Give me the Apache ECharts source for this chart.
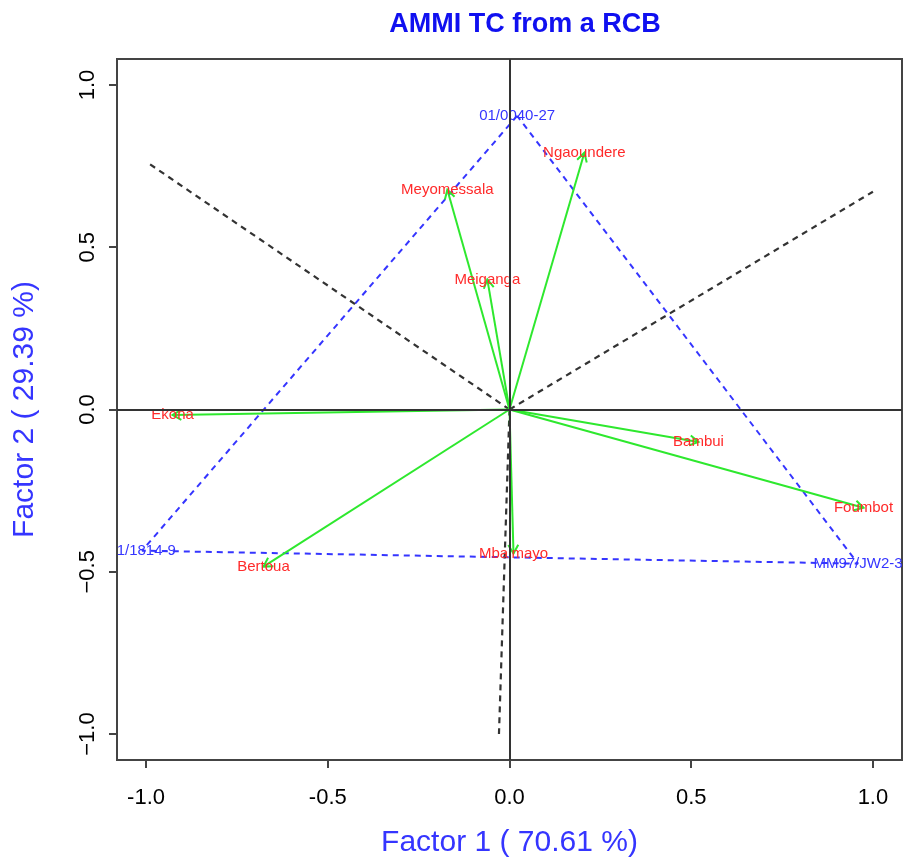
<!DOCTYPE html>
<html>
<head>
<meta charset="utf-8">
<title>AMMI TC from a RCB</title>
<script src="https://cdn.jsdelivr.net/npm/echarts@6/dist/echarts.min.js"></script>
<style>
  html, body { margin: 0; padding: 0; background: #fff; }
  #chart { width: 907px; height: 863px; }
</style>
</head>
<body>
<div id="chart"></div>
<script>
// environments (green arrows, red labels)
const envNames = ['Meyomessala', 'Meiganga', 'Ngaoundere', 'Ekona', 'Bertoua', 'Mbalmayo', 'Bambui', 'Foumbot'];
const envX = [-0.171, -0.061, 0.206, -0.927, -0.677, 0.011, 0.520, 0.974];
const envY = [0.677, 0.401, 0.791, -0.017, -0.484, -0.444, -0.100, -0.303];

// genotypes (vertices of the blue triangle)
const genNames = ['01/0040-27', '01/1814-9', 'MM97/JW2-3'];
const genX = [0.021, -1.011, 0.959];
const genY = [0.905, -0.435, -0.475];

// ends of the black dashed lines from the origin
const perpX = [-0.995, 1.000, -0.029];
const perpY = [0.760, 0.671, -1.000];

const tickValues = [-1, -0.5, 0, 0.5, 1];

const FONT = '"Liberation Sans", Arial, Helvetica, sans-serif';
const GREEN = '#2ee82e';
const RED = '#ff2a2a';
const BLUE = '#3535ff';

const chart = echarts.init(document.getElementById('chart'), null, { renderer: 'canvas' });

// triangle closed back on the first vertex
const triangle = genX.map((x, i) => [x, genY[i]]);
triangle.push(triangle[0]);

// arrow drawn from the origin, open V head like R arrows()
function renderArrow(params, api) {
    const p0 = api.coord([0, 0]);
    const p1 = api.coord([api.value(0), api.value(1)]);
    const ang = Math.atan2(p1[1] - p0[1], p1[0] - p0[0]);
    const len = 10;
    const spread = Math.PI / 6;
    const h1 = [p1[0] - len * Math.cos(ang - spread), p1[1] - len * Math.sin(ang - spread)];
    const h2 = [p1[0] - len * Math.cos(ang + spread), p1[1] - len * Math.sin(ang + spread)];
    return {
        type: 'group',
        children: [
            { type: 'line', shape: { x1: p0[0], y1: p0[1], x2: p1[0], y2: p1[1] },
              style: { stroke: GREEN, lineWidth: 2 } },
            { type: 'polyline', shape: { points: [h1, p1, h2] },
              style: { stroke: GREEN, fill: null, lineWidth: 2 } }
        ]
    };
}

function labelRenderer(names, color) {
    return function (params, api) {
        const p = api.coord([api.value(0), api.value(1)]);
        return {
            type: 'text',
            style: {
                text: names[params.dataIndex],
                x: p[0], y: p[1],
                align: 'center', verticalAlign: 'middle',
                fill: color,
                font: '15px ' + FONT
            }
        };
    };
}

const perpSeries = perpX.map((x, i) => ({
    type: 'line',
    data: [[0, 0], [x, perpY[i]]],
    symbol: 'none',
    silent: true,
    lineStyle: { color: '#333', width: 2.2, type: [6, 5] },
    z: 2
}));

const option = {
    animation: false,
    backgroundColor: '#fff',
    title: {
        text: 'AMMI TC from a RCB',
        left: 520,
        top: 6,
        textAlign: 'center',
        textStyle: { color: '#1010f0', fontSize: 27, fontWeight: 'bold', fontFamily: FONT }
    },
    grid: {
        left: 117, right: 5, top: 59, bottom: 101,
        show: true, borderColor: '#444', borderWidth: 2
    },
    xAxis: {
        type: 'value',
        min: -1.08, max: 1.08,
        name: 'Factor 1 ( 70.61 %)',
        nameLocation: 'middle',
        nameGap: 68,
        nameTextStyle: { color: BLUE, fontSize: 30, fontFamily: FONT },
        axisLine: { onZero: false, lineStyle: { color: '#444', width: 2 } },
        axisTick: { customValues: tickValues, length: 8, lineStyle: { color: '#444', width: 2 } },
        axisLabel: {
            customValues: tickValues, margin: 27,
            color: '#000', fontSize: 22, fontFamily: FONT,
            formatter: v => v.toFixed(1)
        },
        splitLine: { show: false }
    },
    yAxis: {
        type: 'value',
        min: -1.08, max: 1.08,
        name: 'Factor 2 ( 29.39 %)',
        nameLocation: 'middle',
        nameRotate: 90,
        nameGap: 77,
        nameTextStyle: { color: BLUE, fontSize: 30, fontFamily: FONT },
        axisLine: { onZero: false, lineStyle: { color: '#444', width: 2 } },
        axisTick: { customValues: tickValues, length: 8, lineStyle: { color: '#444', width: 2 } },
        axisLabel: {
            customValues: tickValues, margin: 18, rotate: 90,
            color: '#000', fontSize: 22, fontFamily: FONT,
            formatter: v => (v < 0 ? '\u2212' : '') + Math.abs(v).toFixed(1)
        },
        splitLine: { show: false }
    },
    series: [
        {
            type: 'line',
            data: triangle,
            symbol: 'none',
            silent: true,
            lineStyle: { color: BLUE, width: 2, type: [6, 5] },
            z: 2,
            markLine: {
                silent: true,
                symbol: 'none',
                label: { show: false },
                lineStyle: { color: '#333', width: 2, type: 'solid' },
                data: [{ xAxis: 0 }, { yAxis: 0 }]
            }
        },
        ...perpSeries,
        {
            type: 'custom',
            renderItem: renderArrow,
            data: envX.map((x, i) => [x, envY[i]]),
            clip: true,
            silent: true,
            z: 3
        },
        {
            type: 'custom',
            renderItem: labelRenderer(envNames, RED),
            data: envX.map((x, i) => [x, envY[i]]),
            clip: true,
            silent: true,
            z: 4
        },
        {
            type: 'custom',
            renderItem: labelRenderer(genNames, BLUE),
            data: genX.map((x, i) => [x, genY[i]]),
            clip: true,
            silent: true,
            z: 4
        }
    ]
};

chart.setOption(option);
</script>
</body>
</html>
